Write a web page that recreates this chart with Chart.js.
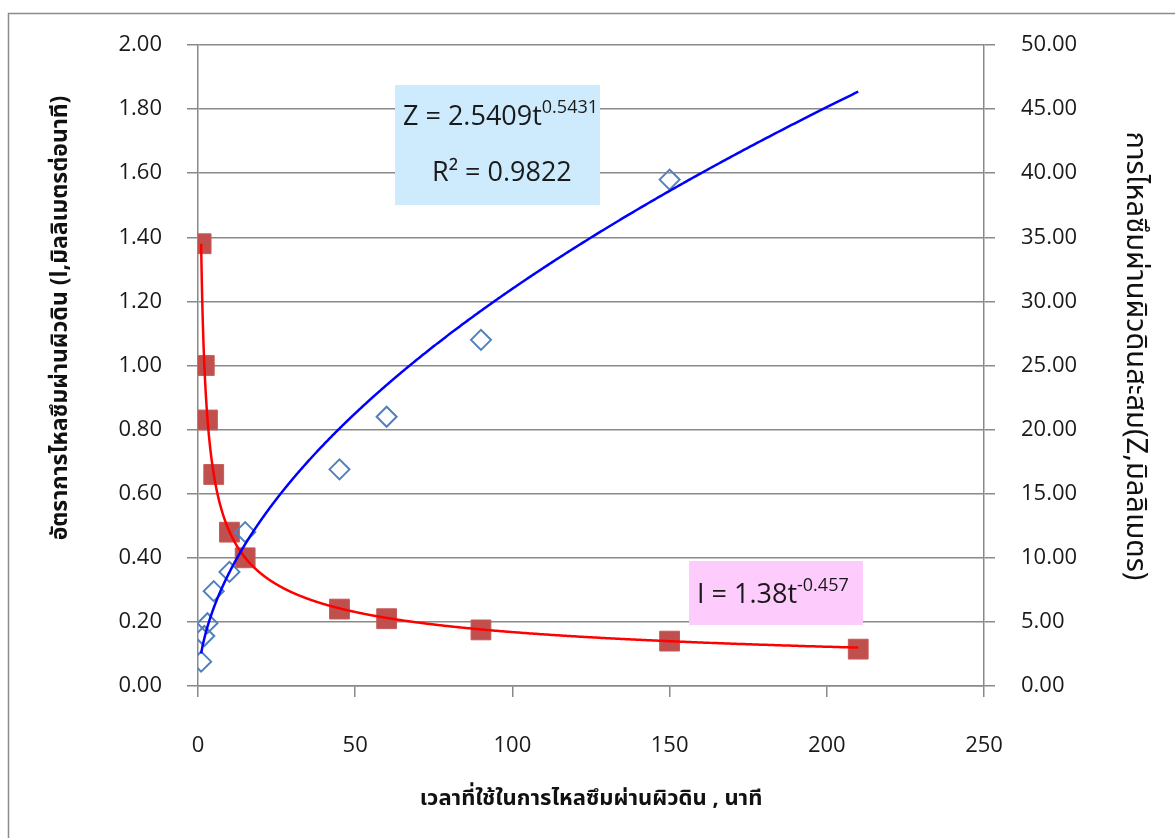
<!DOCTYPE html>
<html>
<head>
<meta charset="utf-8">
<script src="https://cdn.jsdelivr.net/npm/chart.js@4/dist/chart.umd.min.js"></script>
<style>
  html, body { margin: 0; padding: 0; background: #fff; }
  #wrap { width: 1175px; height: 838px; }
</style>
</head>
<body>
<div id="wrap"><canvas id="infilChart" width="1175" height="838"></canvas></div>
<script>
// ===== DATA =====
// infiltration rate I (mm/min), left axis
const timeRate = [1, 2, 3, 5, 10, 15, 45, 60, 90, 150, 210];
const rateI = [1.38, 1.00, 0.83, 0.66, 0.48, 0.40, 0.24, 0.21, 0.175, 0.14, 0.115];

// cumulative infiltration Z (mm), right axis
const timeCum = [1, 2, 3, 5, 10, 15, 45, 60, 90, 150];
const cumZ = [1.9, 3.9, 4.9, 7.4, 8.9, 12.0, 16.9, 21.0, 27.0, 39.5];

// power trendlines as printed on the chart
const fitZ = { a: 2.5409, b: 0.5431, r2: '0.9822' };
const fitI = { a: 1.38, b: -0.457 };
const fitRange = [1, 210];

const xTicks = [0, 50, 100, 150, 200, 250];

const leftTitle = 'อัตราการไหลซึมผ่านผิวดิน (l,มิลลิเมตรต่อนาที)';
const rightTitle = 'การไหลซึมผ่านผิวดินสะสม(Z,มิลลิเมตร)';
const bottomTitle = 'เวลาที่ใช้ในการไหลซึมผ่านผิวดิน , นาที';

const tickFont = { family: "'Open Sans', 'Liberation Sans', sans-serif", size: 22 };
const thaiFont = "'Noto Sans Thai', 'Loma', 'Garuda', 'Tahoma', 'Open Sans', sans-serif";
const gridGray = '#898989';

function toPoints(xs, ys) {
    return xs.map((x, i) => ({ x: x, y: ys[i] }));
}

// ===== TRENDLINES, LABEL BOXES, SIDE TITLES =====
const trendPlugin = {
    id: 'trendlines',
    afterDatasetsDraw(chart) {
        const ctx = chart.ctx;
        const xs = chart.scales.x;
        const area = chart.chartArea;

        function curve(fit, scale, color) {
            ctx.save();
            ctx.beginPath();
            ctx.rect(area.left, area.top, area.right - area.left, area.bottom - area.top);
            ctx.clip();
            ctx.beginPath();
            let first = true;
            for (let t = fitRange[0]; ; t *= 1.004) {
                const tt = Math.min(t, fitRange[1]);
                const px = xs.getPixelForValue(tt);
                const py = scale.getPixelForValue(fit.a * Math.pow(tt, fit.b));
                if (first) { ctx.moveTo(px, py); first = false; } else ctx.lineTo(px, py);
                if (tt >= fitRange[1]) break;
            }
            ctx.strokeStyle = color;
            ctx.lineWidth = 2.5;
            ctx.stroke();
            ctx.restore();
        }
        curve(fitI, chart.scales.y, '#ff0000');
        curve(fitZ, chart.scales.y2, '#0000ff');

        // equation boxes
        function eqText(x, y, base, sup, size) {
            ctx.font = size + "px 'Open Sans', 'Liberation Sans', sans-serif";
            ctx.fillText(base, x, y);
            const w = ctx.measureText(base).width;
            ctx.font = Math.round(size * 0.66) + "px 'Open Sans', 'Liberation Sans', sans-serif";
            ctx.fillText(sup, x + w, y - size * 0.45);
        }
        ctx.save();
        ctx.textBaseline = 'alphabetic';
        ctx.textAlign = 'left';
        ctx.fillStyle = '#cdebfc';
        ctx.fillRect(395, 85, 205, 120);
        ctx.fillStyle = '#1a1a1a';
        eqText(403, 125, 'Z = ' + fitZ.a + 't', String(fitZ.b), 27);
        ctx.font = "27px 'Open Sans', 'Liberation Sans', sans-serif";
        ctx.fillText('R\u00b2 = ' + fitZ.r2, 432, 181);

        ctx.fillStyle = '#fdccfd';
        ctx.fillRect(689, 561, 174, 64);
        ctx.fillStyle = '#1a1a1a';
        eqText(697, 603, 'I = ' + fitI.a + 't', String(fitI.b), 27);
        ctx.restore();
    },
    afterDraw(chart) {
        const ctx = chart.ctx;
        ctx.save();
        ctx.strokeStyle = '#8c8c8c';
        ctx.lineWidth = 1.5;
        ctx.strokeRect(8.5, 13.5, 1175, 838);

        // vertical axis titles
        ctx.fillStyle = '#111';
        ctx.textAlign = 'center';
        ctx.textBaseline = 'middle';

        ctx.save();
        ctx.translate(62, 318);
        ctx.rotate(-Math.PI / 2);
        ctx.font = 'bold 23px ' + thaiFont;
        ctx.fillText(leftTitle, 0, 0);
        ctx.restore();

        ctx.save();
        ctx.translate(1133, 356);
        ctx.rotate(Math.PI / 2);
        ctx.font = '29px ' + thaiFont;
        ctx.fillText(rightTitle, 0, 0);
        ctx.restore();

        ctx.restore();
    }
};

// ===== CHART =====
const ctx = document.getElementById('infilChart').getContext('2d');

new Chart(ctx, {
    type: 'scatter',
    data: {
        datasets: [
            {
                label: 'Z',
                data: toPoints(timeCum, cumZ),
                yAxisID: 'y2',
                pointStyle: 'rectRot',
                pointRadius: 10,
                pointHoverRadius: 10,
                pointBorderWidth: 2,
                borderColor: '#4f81bd',
                backgroundColor: 'rgba(0,0,0,0)',
                pointBackgroundColor: 'rgba(0,0,0,0)'
            },
            {
                label: 'I',
                data: toPoints(timeRate, rateI),
                yAxisID: 'y',
                pointStyle: 'rect',
                pointRadius: 14,
                pointHoverRadius: 14,
                pointBorderWidth: 1,
                borderColor: '#c65a57',
                backgroundColor: '#c0504d'
            }
        ]
    },
    options: {
        responsive: false,
        animation: false,
        events: [],
        layout: { padding: { top: 45, left: 0, right: 0, bottom: 0 } },
        plugins: {
            legend: { display: false },
            tooltip: { enabled: false }
        },
        scales: {
            x: {
                type: 'linear',
                min: 0,
                max: 250,
                afterFit: function(scale) { scale.height = 152; },
                afterBuildTicks: function(scale) {
                    scale.ticks = xTicks.map(v => ({ value: v }));
                },
                grid: {
                    drawOnChartArea: false,
                    drawTicks: true,
                    tickLength: 11,
                    color: gridGray,
                    lineWidth: 1.5
                },
                border: { display: true, color: gridGray, width: 1.5 },
                ticks: {
                    color: '#1a1a1a',
                    font: tickFont,
                    padding: 36,
                    maxRotation: 0,
                    callback: v => String(v)
                },
                title: {
                    display: true,
                    text: bottomTitle,
                    color: '#111',
                    font: { family: thaiFont, size: 22, weight: 'bold' },
                    padding: { top: 0, bottom: 24 }
                }
            },
            y: {
                position: 'left',
                min: 0,
                max: 2,
                afterFit: function(scale) { scale.width = 198; },
                ticks: {
                    stepSize: 0.2,
                    color: '#1a1a1a',
                    font: tickFont,
                    padding: 25,
                    callback: v => Number(v).toFixed(2)
                },
                grid: {
                    color: gridGray,
                    lineWidth: 1.5,
                    tickLength: 11
                },
                border: { display: true, color: gridGray, width: 1.5 }
            },
            y2: {
                position: 'right',
                min: 0,
                max: 50,
                afterFit: function(scale) { scale.width = 191; },
                ticks: {
                    stepSize: 5,
                    color: '#1a1a1a',
                    font: tickFont,
                    padding: 26,
                    callback: v => Number(v).toFixed(2)
                },
                grid: {
                    drawOnChartArea: false,
                    color: gridGray,
                    lineWidth: 1.5,
                    tickLength: 11
                },
                border: { display: true, color: gridGray, width: 1.5 }
            }
        }
    },
    plugins: [trendPlugin]
});
</script>
</body>
</html>
